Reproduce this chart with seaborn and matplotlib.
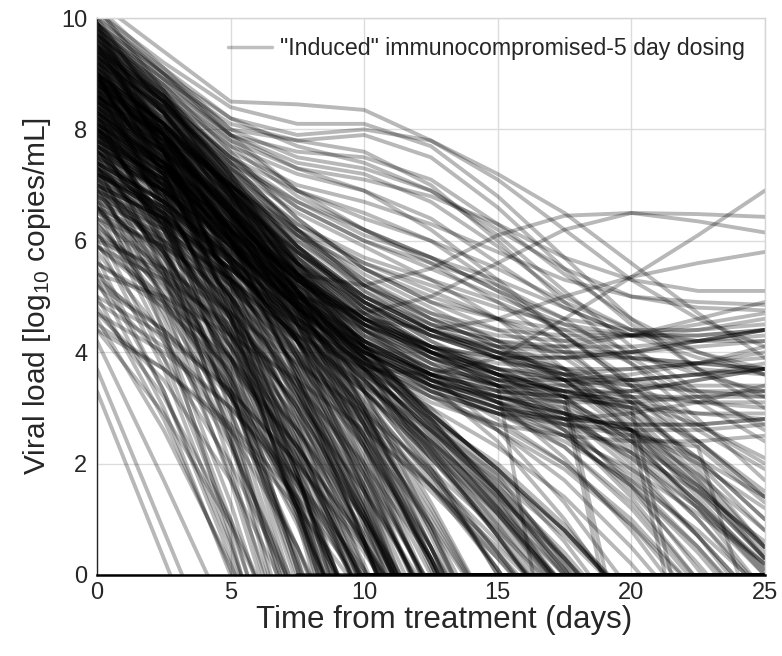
import numpy as np
import pandas as pd
import matplotlib
matplotlib.use("Agg")
import matplotlib.pyplot as plt
import seaborn as sns
from matplotlib.lines import Line2D

# Sampling days shared by every simulated patient trajectory
days = [0, 2.5, 5, 7.5, 10, 12.5, 15, 17.5, 20, 22.5, 25]

# log10 viral load per patient; a trajectory stops once it falls below detection
rapid_clearance = [
    [3.3, 0.3, -2.7],
    [3.7, 0.8, -2.1],
    [4.2, 1.7, -0.9],
    [4.6, 2.6, 0.2, -2.6],
    [5.7, 3.3, 0.3, -3.0],
    [4.8, 3.2, 1.0, -1.6],
    [6.0, 3.7, 0.6, -3.1],
    [6.6, 4.2, 1.0, -2.9],
    [7.2, 4.4, 0.7, -3.6],
    [5.3, 3.0, 0.0, -3.4],
]

early_clearance = [
    [5.0, 2.8, 0.1, -3.2],
    [5.5, 3.3, 0.5, -2.9],
    [6.2, 3.9, 0.9, -2.7],
    [4.4, 2.9, 0.9, -1.6],
    [6.8, 4.4, 1.3, -2.4],
    [7.4, 4.9, 1.7, -2.2],
    [8.0, 5.4, 2.0, -2.1],
    [8.6, 5.9, 2.4, -1.8],
    [7.0, 5.0, 2.4, -0.8],
    [7.7, 5.5, 2.7, -0.7],
    [8.3, 6.0, 3.0, -0.6],
    [9.0, 6.6, 3.4, -0.5],
    [6.4, 4.7, 2.4, -0.5],
    [5.8, 4.3, 2.3, -0.3],
    [9.4, 7.1, 4.0, 0.1, -4.3],
    [8.8, 6.6, 3.7, 0.1, -4.0],
    [8.1, 6.2, 3.6, 0.3, -3.5],
    [7.5, 5.7, 3.3, 0.3, -3.2],
    [6.9, 5.3, 3.2, 0.5, -2.6],
    [6.1, 4.8, 2.9, 0.5, -2.3],
    [5.4, 4.2, 2.6, 0.5, -2.0],
    [9.7, 7.6, 4.7, 1.0, -3.3],
    [9.2, 7.3, 4.6, 1.1, -3.0],
    [8.5, 6.8, 4.4, 1.2, -2.6],
    [7.9, 6.3, 4.1, 1.2, -2.3],
    [7.2, 5.8, 3.8, 1.2, -2.0],
    [6.6, 5.4, 3.6, 1.2, -1.7],
    [5.9, 4.9, 3.4, 1.3, -1.3],
    [8.9, 7.2, 4.9, 1.8, -2.0],
    [8.2, 6.7, 4.6, 1.8, -1.7],
    [7.6, 6.3, 4.4, 1.8, -1.5],
    [7.0, 5.8, 4.1, 1.7, -1.3],
    [9.5, 7.7, 5.2, 1.9, -2.1],
    [8.7, 6.5, 3.5, -0.2],
    [7.3, 5.3, 2.6, -0.9],
    [6.7, 4.6, 1.8, -1.6],
    [8.4, 5.8, 2.5, -1.6],
    [9.1, 6.4, 2.9, -1.3],
    [5.2, 3.9, 2.0, -0.4],
    [4.7, 3.5, 1.7, -0.7],
    [7.8, 5.9, 3.3, 0.0, -3.9],
    [8.0, 6.4, 4.2, 1.4, -1.9],
    [6.3, 5.1, 3.3, 0.9, -1.9],
    [9.9, 7.9, 5.0, 1.3, -3.0],
    [7.1, 5.5, 3.2, 0.2, -3.1],
]

typical_clearance = [
    [9.8, 7.9, 5.6, 3.0, 0.1, -3.2],
    [9.2, 7.4, 5.3, 2.8, -0.1, -3.3],
    [8.6, 6.9, 4.9, 2.6, 0.2, -2.6],
    [8.0, 6.4, 4.6, 2.4, -0.2, -3.0],
    [7.4, 6.0, 4.3, 2.3, 0.1, -2.4],
    [6.8, 5.5, 3.9, 2.1, -0.1, -2.5],
    [9.6, 7.6, 5.2, 2.5, -0.6],
    [9.0, 7.1, 4.9, 2.3, -0.6],
    [8.4, 6.7, 4.6, 2.2, -0.5],
    [7.8, 6.2, 4.3, 2.0, -0.5],
    [7.2, 5.7, 3.9, 1.9, -0.5],
    [6.6, 5.2, 3.6, 1.7, -0.4],
    [9.9, 7.7, 5.1, 2.1, -1.4],
    [9.3, 7.2, 4.8, 1.9, -1.3],
    [8.7, 6.8, 4.5, 1.8, -1.2],
    [8.1, 6.3, 4.2, 1.7, -1.1],
    [7.5, 5.8, 3.9, 1.6, -1.0],
    [6.9, 5.4, 3.5, 1.4, -1.0],
    [6.3, 4.9, 3.2, 1.3, -0.9],
    [9.8, 7.5, 4.7, 1.5, -2.2],
    [9.0, 6.9, 4.3, 1.3, -2.0],
    [8.2, 6.2, 3.9, 1.2, -1.9],
    [7.4, 5.6, 3.5, 1.1, -1.7],
    [6.6, 5.0, 3.2, 1.0, -1.5],
    [9.5, 7.6, 5.3, 2.7, -0.2],
    [8.9, 7.2, 5.0, 2.5, -0.3],
    [8.3, 6.7, 4.7, 2.4, -0.3],
    [7.7, 6.2, 4.4, 2.2, -0.2],
    [7.1, 5.8, 4.1, 2.1, -0.1],
    [9.7, 8.1, 6.0, 3.5, 0.6, -2.6],
    [9.1, 7.6, 5.6, 3.3, 0.6, -2.4],
    [8.5, 7.1, 5.3, 3.1, 0.6, -2.3],
    [7.9, 6.6, 5.0, 2.9, 0.5, -2.1],
    [7.3, 6.1, 4.6, 2.7, 0.5, -2.0],
    [6.7, 5.7, 4.3, 2.6, 0.6, -1.7],
    [6.1, 5.2, 3.9, 2.3, 0.5, -1.6],
    [9.4, 7.9, 6.0, 3.8, 1.2, -1.7],
    [8.8, 7.4, 5.7, 3.6, 1.2, -1.6],
    [8.2, 7.0, 5.4, 3.4, 1.1, -1.5],
    [7.6, 6.5, 5.0, 3.2, 1.1, -1.3],
    [7.0, 6.0, 4.7, 3.0, 1.0, -1.3],
    [6.4, 5.5, 4.3, 2.8, 1.0, -1.2],
    [9.9, 8.4, 6.5, 4.2, 1.5, -1.6],
    [9.3, 7.9, 6.1, 3.9, 1.4, -1.5],
    [8.7, 7.4, 5.7, 3.7, 1.3, -1.4],
    [8.1, 6.9, 5.4, 3.5, 1.3, -1.3],
    [7.5, 6.4, 5.0, 3.3, 1.2, -1.2],
    [6.9, 5.9, 4.6, 3.0, 1.1, -1.1],
    [9.6, 8.3, 6.6, 4.5, 2.0, -0.8],
    [9.0, 7.8, 6.2, 4.2, 1.9, -0.8],
    [8.4, 7.3, 5.8, 4.0, 1.8, -0.7],
    [7.8, 6.8, 5.4, 3.7, 1.7, -0.6],
    [7.2, 6.3, 5.0, 3.4, 1.6, -0.6],
    [6.6, 5.8, 4.7, 3.2, 1.5, -0.5],
    [9.8, 8.5, 6.8, 4.7, 2.3, -0.4],
    [9.2, 8.0, 6.4, 4.5, 2.2, -0.4],
    [8.6, 7.5, 6.0, 4.2, 2.1, -0.3],
    [8.0, 7.0, 5.6, 3.9, 2.0, -0.3],
    [7.4, 6.5, 5.3, 3.7, 1.9, -0.2],
    [6.8, 6.0, 4.9, 3.5, 1.8, -0.2],
    [9.5, 8.4, 6.9, 5.0, 2.8, 0.3, -2.4],
    [8.9, 7.9, 6.5, 4.8, 2.7, 0.3, -2.3],
    [8.3, 7.4, 6.1, 4.5, 2.5, 0.3, -2.2],
    [7.7, 6.9, 5.7, 4.2, 2.4, 0.3, -2.0],
    [7.1, 6.4, 5.4, 4.0, 2.3, 0.3, -1.9],
    [9.9, 8.6, 6.9, 4.8, 2.4, -0.3],
    [9.1, 8.1, 6.7, 4.9, 2.7, 0.1, -2.7],
    [8.5, 7.6, 6.3, 4.7, 2.6, 0.2, -2.5],
    [7.9, 7.1, 5.9, 4.4, 2.5, 0.2, -2.4],
    [7.3, 6.6, 5.6, 4.2, 2.4, 0.2, -2.3],
    [9.7, 8.6, 7.1, 5.2, 3.0, 0.5, -2.2],
    [8.8, 7.9, 6.6, 4.9, 2.9, 0.5, -2.1],
    [8.0, 7.2, 6.1, 4.6, 2.7, 0.5, -2.0],
    [7.2, 6.6, 5.6, 4.2, 2.5, 0.5, -1.8],
    [6.5, 5.9, 5.0, 3.8, 2.3, 0.5, -1.6],
    [9.3, 8.3, 6.9, 5.1, 3.0, 0.7, -1.9],
    [8.6, 7.7, 6.5, 4.9, 3.0, 0.8, -1.7],
    [7.8, 7.1, 6.0, 4.6, 2.9, 0.8, -1.6],
    [7.0, 6.4, 5.5, 4.3, 2.8, 0.9, -1.4],
    [9.6, 8.6, 7.2, 5.4, 3.3, 0.9, -1.8],
    [9.0, 7.6, 5.8, 3.6, 1.0, -1.9],
    [8.4, 7.0, 5.3, 3.2, 0.7, -2.1],
    [7.6, 6.3, 4.8, 2.9, 0.7, -1.8],
    [6.2, 5.3, 4.1, 2.6, 0.8, -1.2],
    [5.6, 4.8, 3.7, 2.3, 0.6, -1.3],
    [5.0, 4.3, 3.3, 2.0, 0.4, -1.4],
    [4.4, 3.7, 2.7, 1.4, -0.2],
    [5.3, 4.4, 3.2, 1.7, 0.0, -1.9],
    [5.9, 5.0, 3.8, 2.3, 0.6, -1.4],
    [4.7, 4.0, 3.0, 1.7, 0.1, -1.7],
    [8.2, 7.3, 6.0, 4.3, 2.3, 0.0, -2.5],
    [8.8, 7.5, 5.9, 3.9, 1.6, -1.0],
    [9.4, 8.0, 6.2, 4.0, 1.5, -1.3],
    [7.3, 6.2, 4.8, 3.0, 1.0, -1.3],
    [8.0, 6.8, 5.2, 3.3, 1.1, -1.4],
    [10.2, 8.7, 6.7, 4.3, 1.6, -1.4],
    [10.0, 8.3, 6.1, 3.5, 0.6, -2.5],
    [9.5, 8.0, 6.0, 3.6, 0.9, -2.0],
    [8.9, 7.7, 6.1, 4.1, 1.8, -0.8],
    [8.6, 7.2, 5.4, 3.3, 0.9, -1.8],
]

low_start_clearance = [
    [5.2, 4.4, 3.3, 2.0, 0.5, -1.2],
    [4.5, 3.7, 2.6, 1.2, -0.4],
    [5.6, 4.9, 3.9, 2.6, 1.0, -0.8],
    [6.1, 5.4, 4.4, 3.1, 1.5, -0.4],
    [4.9, 4.1, 3.0, 1.6, -0.1],
    [5.9, 5.3, 4.5, 3.4, 2.0, 0.3, -1.6],
]

late_clearance = [
    [9.5, 8.3, 6.8, 5.1, 3.3, 1.3, -0.9],
    [8.9, 7.8, 6.4, 4.8, 3.1, 1.2, -0.9],
    [8.3, 7.3, 6.0, 4.5, 2.9, 1.1, -0.9],
    [7.7, 6.8, 5.6, 4.2, 2.7, 1.0, -0.9],
    [7.1, 6.3, 5.2, 3.9, 2.5, 0.9, -0.9],
    [9.2, 8.2, 6.9, 5.4, 3.8, 2.0, 0.0, -2.1],
    [8.6, 7.7, 6.5, 5.1, 3.6, 1.9, 0.0, -2.0],
    [8.0, 7.2, 6.1, 4.8, 3.4, 1.8, 0.1, -1.8],
    [7.4, 6.7, 5.7, 4.5, 3.2, 1.7, 0.1, -1.7],
    [6.8, 6.2, 5.3, 4.2, 3.0, 1.6, 0.1, -1.6],
    [9.8, 8.6, 7.1, 5.5, 3.9, 2.3, 0.7, -1.0],
    [9.0, 7.9, 6.6, 5.1, 3.7, 2.2, 0.7, -0.9],
    [8.4, 7.4, 6.2, 4.9, 3.6, 2.2, 0.7, -0.9],
    [7.8, 7.0, 5.9, 4.7, 3.5, 2.1, 0.7, -0.8],
    [7.2, 6.5, 5.5, 4.4, 3.3, 2.1, 0.8, -0.7],
    [9.4, 8.3, 6.9, 5.4, 4.0, 2.6, 1.2, -0.3],
    [8.7, 7.7, 6.5, 5.1, 3.8, 2.5, 1.2, -0.3],
    [8.1, 7.2, 6.1, 4.9, 3.7, 2.4, 1.1, -0.3],
    [7.5, 6.7, 5.7, 4.6, 3.5, 2.3, 1.1, -0.2],
    [6.9, 6.2, 5.3, 4.3, 3.3, 2.2, 1.1, -0.2],
    [9.1, 7.9, 6.4, 4.8, 3.3, 1.9, 0.4, -1.2],
    [8.5, 7.4, 6.0, 4.5, 3.1, 1.8, 0.4, -1.1],
    [7.9, 6.9, 5.6, 4.2, 2.9, 1.6, 0.3, -1.1],
    [7.3, 6.4, 5.2, 3.9, 2.7, 1.5, 0.3, -1.0],
    [9.6, 8.5, 7.1, 5.6, 4.2, 2.8, 1.5, 0.0, -1.6],
    [8.8, 7.9, 6.7, 5.4, 4.1, 2.8, 1.5, 0.1, -1.5],
    [8.2, 7.4, 6.3, 5.1, 3.9, 2.7, 1.5, 0.1, -1.4],
    [7.6, 6.9, 5.9, 4.8, 3.7, 2.6, 1.4, 0.1, -1.3],
    [7.0, 6.4, 5.5, 4.5, 3.5, 2.4, 1.3, 0.0, -1.4],
    [6.4, 5.9, 5.1, 4.2, 3.3, 2.3, 1.2, 0.0, -1.3],
    [9.3, 8.1, 6.6, 5.0, 3.5, 2.2, 1.0, -0.3],
    [8.7, 7.6, 6.2, 4.7, 3.3, 2.1, 0.9, -0.4],
    [8.0, 7.0, 5.7, 4.3, 3.0, 1.8, 0.6, -0.7],
    [7.3, 6.4, 5.3, 4.0, 2.8, 1.6, 0.4, -0.9],
    [9.9, 8.7, 7.2, 5.6, 4.1, 2.7, 1.3, -0.2],
    [9.0, 8.0, 6.8, 5.4, 4.1, 2.9, 1.7, 0.3, -1.2],
    [8.3, 7.4, 6.3, 5.1, 3.9, 2.8, 1.6, 0.3, -1.1],
    [7.7, 6.9, 5.9, 4.8, 3.7, 2.6, 1.5, 0.2, -1.1],
    [9.5, 8.4, 7.0, 5.5, 4.1, 2.9, 1.9, 0.8, -0.5],
    [8.9, 7.9, 6.6, 5.3, 4.0, 2.9, 1.9, 0.8, -0.5],
    [8.1, 7.3, 6.2, 5.0, 3.9, 2.9, 1.9, 0.8, -0.5],
    [7.4, 6.7, 5.7, 4.6, 3.6, 2.7, 1.8, 0.8, -0.4],
    [6.6, 6.0, 5.2, 4.3, 3.4, 2.6, 1.7, 0.7, -0.5],
    [9.2, 8.1, 6.7, 5.2, 3.9, 2.7, 1.6, 0.4, -1.0],
    [8.5, 7.5, 6.2, 4.9, 3.7, 2.6, 1.5, 0.3, -1.0],
    [7.2, 6.5, 5.5, 4.4, 3.4, 2.4, 1.4, 0.3, -1.0],
    [6.0, 5.5, 4.7, 3.8, 2.9, 1.9, 0.8, -0.4],
    [5.4, 5.0, 4.3, 3.5, 2.6, 1.6, 0.5, -0.7],
    [9.7, 8.5, 7.0, 5.3, 3.7, 2.3, 0.9, -0.6],
    [8.8, 7.8, 6.5, 5.1, 3.8, 2.5, 1.2, -0.2],
]

slow_clearance = [
    [8.6, 7.6, 6.2, 4.9, 3.9, 3.0, 1.8, 0.2, -1.6],
    [9.0, 7.9, 6.5, 5.2, 4.2, 3.4, 2.4, 1.0, -0.7],
    [8.2, 7.3, 6.0, 4.8, 3.8, 2.8, 1.4, -0.3],
    [7.8, 6.9, 5.7, 4.6, 3.7, 2.9, 1.9, 0.6, -1.0],
    [9.3, 8.3, 6.9, 5.6, 4.5, 3.6, 2.6, 1.3, -0.3],
    [8.4, 7.5, 6.3, 5.1, 4.1, 3.3, 2.6, 1.7, 0.5, -0.9],
    [7.5, 6.7, 5.6, 4.5, 3.6, 2.8, 2.0, 0.9, -0.5],
    [8.9, 7.7, 6.2, 4.7, 3.5, 2.4, 1.1, -0.4],
    [9.6, 8.5, 7.0, 5.6, 4.4, 3.5, 2.8, 2.0, 0.9, -0.5],
    [8.0, 7.1, 5.9, 4.8, 3.9, 3.2, 2.6, 1.9, 0.9, -0.3],
    [8.7, 7.8, 6.6, 5.4, 4.5, 3.8, 3.1, 2.1, 0.8, -0.8],
    [7.2, 6.5, 5.5, 4.5, 3.7, 3.0, 2.3, 1.4, 0.2, -1.2],
    [9.1, 8.1, 6.8, 5.5, 4.4, 3.6, 3.1, 2.6, 1.8, 0.7, -0.6],
    [8.3, 7.4, 6.2, 5.0, 4.0, 3.4, 3.0, 2.3, 1.2, -0.2],
    [8.8, 7.8, 6.5, 5.2, 4.2, 3.5, 3.1, 2.8, 2.2, 1.2, 0.0],
    [7.7, 6.9, 5.8, 4.8, 4.0, 3.4, 2.9, 2.3, 1.3, -0.1],
    [9.4, 8.3, 6.8, 5.4, 4.3, 3.5, 3.0, 2.5, 1.6, 0.4, -1.0],
    [8.5, 7.7, 6.6, 5.5, 4.6, 3.9, 3.3, 2.6, 1.5, 0.2, -1.2],
    [7.9, 7.0, 5.9, 4.8, 3.9, 3.3, 2.9, 2.4, 1.7, 0.8, -0.3],
    [9.0, 8.1, 6.9, 5.7, 4.7, 4.0, 3.4, 2.7, 1.7, 0.5, -0.9],
    [8.1, 7.3, 6.2, 5.1, 4.2, 3.6, 3.2, 2.8, 2.1, 1.2, 0.2],
    [8.6, 7.8, 6.7, 5.6, 4.7, 4.1, 3.6, 3.0, 2.0, 0.7, -0.8],
    [7.4, 6.7, 5.8, 4.9, 4.1, 3.5, 3.1, 2.7, 2.2, 1.5, 0.6],
    [9.2, 8.3, 7.1, 5.9, 4.9, 4.2, 3.7, 3.2, 2.4, 1.3, 0.1],
    [8.3, 7.5, 6.4, 5.3, 4.4, 3.8, 3.4, 3.1, 2.6, 1.8, 0.8],
    [8.8, 7.9, 6.8, 5.7, 4.8, 4.1, 3.6, 3.3, 2.9, 2.1, 1.0],
    [7.6, 6.9, 6.0, 5.0, 4.2, 3.6, 3.2, 2.9, 2.4, 1.6, 0.5],
    [9.5, 8.5, 7.2, 5.9, 4.8, 4.0, 3.4, 2.6, 1.4, -0.1],
    [8.0, 7.2, 6.1, 5.0, 4.1, 3.5, 3.2, 3.0, 2.5, 1.5, 0.3],
    [8.9, 8.0, 6.9, 5.8, 4.9, 4.3, 3.9, 3.5, 2.8, 1.7, 0.4],
    [7.0, 6.4, 5.5, 4.6, 3.8, 3.2, 2.7, 2.0, 1.0, -0.3],
    [8.4, 7.6, 6.6, 5.6, 4.8, 4.3, 3.9, 3.4, 2.5, 1.2, -0.3],
    [9.7, 8.7, 7.4, 6.2, 5.2, 4.5, 4.0, 3.5, 2.7, 1.6, 0.3],
    [8.2, 7.4, 6.4, 5.4, 4.6, 4.0, 3.6, 3.3, 3.0, 2.4, 1.5],
    [8.7, 7.8, 6.6, 5.4, 4.4, 3.7, 3.2, 2.9, 2.6, 2.0, 1.2],
    [7.8, 7.1, 6.2, 5.3, 4.6, 4.1, 3.7, 3.2, 2.4, 1.3, 0.0],
    [9.2, 8.4, 7.3, 6.2, 5.3, 4.6, 4.1, 3.6, 2.8, 1.7, 0.3],
    [6.7, 6.1, 5.3, 4.5, 3.8, 3.3, 2.9, 2.5, 1.9, 1.1, 0.2],
    [8.5, 7.6, 6.5, 5.4, 4.5, 3.9, 3.5, 3.3, 3.1, 2.7, 2.1],
    [9.0, 8.1, 7.0, 5.9, 5.0, 4.4, 4.0, 3.7, 3.2, 2.4, 1.4],
    [7.3, 6.6, 5.6, 4.7, 4.0, 3.5, 3.1, 2.9, 2.6, 2.1, 1.4],
    [8.1, 7.4, 6.5, 5.6, 4.9, 4.4, 4.0, 3.6, 3.0, 2.1, 1.0],
    [9.4, 8.6, 7.5, 6.4, 5.5, 4.9, 4.4, 3.9, 3.1, 1.9, 0.5],
    [8.6, 7.9, 7.0, 6.1, 5.3, 4.7, 4.2, 3.7, 2.9, 1.8, 0.5],
    [7.9, 7.2, 6.3, 5.4, 4.6, 4.0, 3.5, 2.8, 1.6, 0.1, -1.4],
    [8.4, 7.6, 6.5, 5.4, 4.5, 3.9, 3.4, 2.9, 2.1, 1.0, -0.3],
    [9.0, 8.1, 6.9, 5.8, 4.9, 4.2, 3.6, 2.9, 1.9, 0.7, -0.6],
    [7.7, 7.0, 6.0, 5.0, 4.2, 3.6, 3.1, 2.5, 1.6, 0.5, -0.8],
    [8.7, 7.9, 6.8, 5.8, 5.0, 4.4, 3.9, 3.2, 2.2, 1.0, -0.4],
    [8.1, 7.3, 6.3, 5.3, 4.5, 4.0, 3.6, 3.1, 2.3, 1.3, 0.2],
    [9.3, 8.4, 7.2, 6.1, 5.2, 4.6, 4.1, 3.5, 2.6, 1.5, 0.3],
]

abrupt_clearance = [
    [8.2, 7.3, 6.1, 5.0, 4.1, 3.6, 3.3, 3.1, -2.5],
    [8.9, 7.9, 6.6, 5.3, 4.3, 3.7, 3.4, -3.0],
    [7.6, 6.8, 5.8, 4.8, 4.0, 3.5, 3.2, 2.9, 2.6, -2.5],
    [8.5, 7.6, 6.4, 5.3, 4.4, 3.8, 3.4, 3.2, 3.0, -2.0],
    [9.1, 8.1, 6.8, 5.6, 4.6, 3.9, 3.5, 3.3, -2.0],
    [7.9, 7.1, 6.0, 4.9, 4.0, 3.4, 3.0, 2.7, 2.5, 2.3, -1.5],
]

persistent_plateau = [
    [8.8, 7.8, 6.5, 5.2, 4.2, 3.6, 3.3, 3.2, 3.2, 3.2, 3.2],
    [9.2, 8.2, 6.9, 5.6, 4.6, 4.0, 3.7, 3.6, 3.7, 3.8, 3.9],
    [8.3, 7.4, 6.2, 5.0, 4.0, 3.3, 2.9, 2.7, 2.6, 2.6, 2.7],
    [7.9, 7.1, 6.0, 4.9, 4.1, 3.6, 3.4, 3.4, 3.5, 3.6, 3.7],
    [9.5, 8.5, 7.2, 5.9, 4.9, 4.3, 4.0, 3.9, 3.9, 3.8, 3.7],
    [8.5, 7.7, 6.6, 5.5, 4.6, 4.1, 3.9, 3.9, 4.0, 4.2, 4.4],
    [8.1, 7.2, 6.0, 4.8, 3.8, 3.1, 2.7, 2.5, 2.4, 2.4, 2.5],
    [9.0, 8.1, 7.0, 5.9, 5.0, 4.4, 4.1, 4.0, 4.0, 4.1, 4.2],
    [7.4, 6.7, 5.7, 4.7, 3.9, 3.4, 3.2, 3.1, 3.1, 3.2, 3.3],
    [8.7, 7.9, 6.8, 5.7, 4.8, 4.3, 4.1, 4.1, 4.3, 4.6, 4.9],
    [9.3, 8.3, 7.0, 5.8, 4.8, 4.1, 3.6, 3.3, 3.1, 2.9, 2.8],
    [8.0, 7.3, 6.3, 5.3, 4.5, 4.0, 3.7, 3.5, 3.4, 3.4, 3.4],
    [8.6, 7.8, 6.7, 5.6, 4.7, 4.1, 3.7, 3.5, 3.3, 3.1, 3.0],
    [7.7, 7.0, 6.1, 5.2, 4.5, 4.1, 3.9, 3.9, 4.0, 4.2, 4.4],
    [9.1, 8.2, 7.1, 6.0, 5.1, 4.5, 4.2, 4.1, 4.1, 4.2, 4.3],
    [8.4, 7.5, 6.3, 5.1, 4.1, 3.4, 3.0, 2.8, 2.7, 2.7, 2.8],
    [8.9, 8.0, 6.9, 5.8, 4.9, 4.3, 3.9, 3.6, 3.4, 3.3, 3.3],
    [7.2, 6.6, 5.7, 4.8, 4.1, 3.6, 3.3, 3.2, 3.3, 3.5, 3.7],
    [9.6, 8.6, 7.4, 6.2, 5.2, 4.6, 4.3, 4.2, 4.3, 4.5, 4.7],
    [8.2, 7.4, 6.4, 5.4, 4.6, 4.1, 3.8, 3.7, 3.7, 3.8, 4.0],
    [8.8, 8.0, 7.0, 6.0, 5.2, 4.7, 4.4, 4.3, 4.3, 4.4, 4.6],
    [7.6, 6.9, 5.9, 4.9, 4.0, 3.4, 3.0, 2.8, 2.7, 2.7, 2.8],
    [9.0, 8.1, 6.9, 5.7, 4.7, 4.0, 3.5, 3.2, 3.0, 2.9, 2.9],
    [8.3, 7.6, 6.7, 5.8, 5.0, 4.5, 4.2, 4.0, 3.9, 3.8, 3.7],
    [8.6, 7.7, 6.5, 5.3, 4.3, 3.7, 3.4, 3.3, 3.3, 3.5, 3.7],
    [9.4, 8.5, 7.3, 6.1, 5.1, 4.4, 3.9, 3.6, 3.5, 3.6, 3.8],
    [7.8, 7.1, 6.2, 5.3, 4.5, 4.0, 3.6, 3.4, 3.2, 3.1, 3.1],
    [8.1, 7.3, 6.2, 5.1, 4.2, 3.7, 3.5, 3.5, 3.6, 3.8, 4.1],
    [8.9, 8.1, 7.0, 5.9, 5.0, 4.4, 4.0, 3.7, 3.5, 3.3, 3.2],
    [7.5, 6.9, 6.0, 5.1, 4.4, 3.9, 3.6, 3.5, 3.5, 3.6, 3.7],
    [6.9, 6.3, 5.5, 4.6, 3.8, 3.2, 2.9, 2.8, 2.9, 3.1, 3.4],
    [9.8, 8.8, 7.6, 6.4, 5.5, 4.9, 4.6, 4.4, 4.3, 4.3, 4.4],
]

upper_mid = [
    [9.4, 8.5, 7.3, 6.3, 5.6, 5.1, 4.6, 4.0, 3.2, 2.3, 1.3],
    [9.0, 8.2, 7.2, 6.3, 5.7, 5.3, 4.9, 4.4, 3.8, 3.1, 2.4],
    [9.7, 8.8, 7.7, 6.8, 6.2, 5.7, 5.1, 4.3, 3.4, 2.4, 1.4],
    [8.8, 8.0, 7.0, 6.1, 5.5, 5.0, 4.6, 4.2, 3.9, 3.7, 3.6],
    [9.2, 8.4, 7.4, 6.6, 6.0, 5.5, 5.0, 4.5, 4.0, 3.6, 3.3],
    [9.9, 9.0, 7.9, 6.9, 6.2, 5.6, 4.9, 4.1, 3.1, 2.0, 0.8],
    [8.6, 7.9, 7.0, 6.2, 5.6, 5.2, 4.8, 4.5, 4.3, 4.3, 4.4],
    [9.5, 8.6, 7.5, 6.6, 6.0, 5.6, 5.2, 4.6, 3.8, 2.8, 1.7],
    [9.1, 8.3, 7.3, 6.5, 5.9, 5.3, 4.6, 3.7, 2.6, 1.4, 0.1],
    [9.8, 8.9, 7.8, 6.9, 6.4, 6.0, 5.5, 4.9, 4.4, 4.0, 3.7],
    [8.9, 8.1, 7.1, 6.2, 5.4, 4.8, 4.2, 3.5, 2.6, 1.6, 0.5],
    [9.3, 8.5, 7.5, 6.7, 6.1, 5.7, 5.3, 4.8, 4.3, 3.9, 3.6],
]

high_persistent = [
    [10.3, 9.4, 8.5, 8.45, 8.35, 7.8, 7.1, 6.2, 5.3, 4.6, 4.1],
    [10.1, 9.2, 8.4, 8.1, 8.1, 7.7, 6.8, 5.7, 4.6, 3.7, 3.0],
    [9.9, 9.0, 8.2, 7.9, 8.0, 7.8, 7.2, 6.5, 5.6, 4.7, 3.9],
    [10.2, 9.1, 8.0, 7.8, 7.9, 7.5, 6.6, 5.5, 4.5, 3.7, 3.2],
    [9.7, 8.8, 7.9, 7.6, 7.5, 7.1, 6.3, 5.4, 4.6, 4.0, 3.6],
    [9.8, 8.9, 8.1, 7.8, 7.6, 7.0, 6.0, 4.9, 3.9, 3.2, 2.7],
    [10.0, 9.1, 8.2, 7.7, 7.4, 6.9, 6.2, 5.5, 5.0, 4.8, 4.75],
    [9.6, 8.7, 7.8, 7.3, 7.1, 6.8, 6.3, 5.7, 5.3, 5.1, 5.1],
    [9.9, 8.9, 7.9, 7.4, 7.2, 6.7, 5.9, 5.0, 4.4, 4.2, 4.4],
    [9.5, 8.6, 7.7, 7.2, 6.9, 6.4, 5.6, 4.8, 4.3, 4.2, 4.2],
    [10.1, 9.0, 7.9, 7.3, 6.9, 6.2, 5.3, 4.3, 3.4, 2.6, 1.9],
    [9.4, 8.5, 7.5, 6.9, 6.5, 6.0, 5.2, 4.3, 3.5, 2.7, 2.0],
    [9.7, 8.7, 7.6, 7.0, 6.7, 6.3, 5.8, 5.3, 5.0, 4.9, 4.85],
    [9.3, 8.4, 7.4, 6.7, 6.2, 5.7, 5.1, 4.6, 4.4, 4.4, 4.5],
    [10.0, 9.0, 8.0, 7.5, 7.3, 6.9, 6.1, 5.1, 4.1, 3.3, 2.6],
]

rebound = [
    [7.6, 6.5, 5.3, 4.3, 3.7, 3.6, 3.9, 4.6, 5.35, 6.1, 6.9],
    [8.3, 7.3, 6.2, 5.4, 5.2, 5.5, 6.1, 6.45, 6.5, 6.48, 6.43],
    [8.0, 7.0, 5.9, 5.0, 4.7, 5.0, 5.6, 6.2, 6.5, 6.35, 6.15],
    [8.6, 7.6, 6.4, 5.3, 4.6, 4.4, 4.6, 5.0, 5.35, 5.6, 5.8],
]

legend_label = '"Induced" immunocompromised-5 day dosing'

groups = [rapid_clearance, early_clearance, typical_clearance, low_start_clearance,
          late_clearance, slow_clearance, abrupt_clearance, persistent_plateau,
          upper_mid, high_persistent, rebound]

# Long-form table: once a trajectory drops below the axis it rests on the floor
rows = []
pid = 0
for group in groups:
    for curve in group:
        vals = list(curve)
        if vals[-1] < 0 and len(vals) < len(days):
            vals += [0.0] * (len(days) - len(vals))
        for d, v in zip(days, vals):
            rows.append({"day": d, "load": v, "patient": pid})
        pid += 1
df = pd.DataFrame(rows)

sns.set_style("white")
plt.rcParams["font.family"] = ["Liberation Sans", "DejaVu Sans"]
plt.rcParams["mathtext.default"] = "regular"
text_color = "#262626"

fig = plt.figure(figsize=(7.82, 6.56), dpi=100)
ax = fig.add_axes([0.124, 0.1235, 0.854, 0.849])

sns.lineplot(data=df, x="day", y="load", units="patient", estimator=None,
             color="black", alpha=0.28, linewidth=2.8, legend=False, ax=ax)

ax.set_xlim(0, 25)
ax.set_ylim(0, 10)
ax.set_xticks([0, 5, 10, 15, 20, 25])
ax.set_yticks([0, 2, 4, 6, 8, 10])
ax.grid(True, color="#dcdcdc", linewidth=1.0)
ax.set_axisbelow(True)

for side in ("top", "right"):
    ax.spines[side].set_color("#d6d6d6")
    ax.spines[side].set_linewidth(1.0)
ax.spines["left"].set_color(text_color)
ax.spines["left"].set_linewidth(1.0)
ax.spines["bottom"].set_color("black")
ax.spines["bottom"].set_linewidth(1.8)

ax.tick_params(axis="both", direction="in", length=4, width=1,
               labelsize=17, colors=text_color, top=False, right=False)
ax.tick_params(axis="x", pad=5)
ax.tick_params(axis="y", pad=7)

ax.set_xlabel("Time from treatment (days)", fontsize=22.5, color=text_color, labelpad=1)
ax.xaxis.label.set_x(0.52)
ax.set_ylabel("Viral load [log$_{10}$ copies/mL]", fontsize=21.5, color=text_color, labelpad=6)

handle = Line2D([], [], color="black", alpha=0.25, linewidth=2.5)
ax.legend([handle], [legend_label], loc="upper right", bbox_to_anchor=(0.970, 0.966),
          frameon=False, fontsize=16.7, handlelength=1.9, handletextpad=0.35,
          borderaxespad=0, borderpad=0, labelcolor=text_color)

fig.savefig("out.png", dpi=100)
